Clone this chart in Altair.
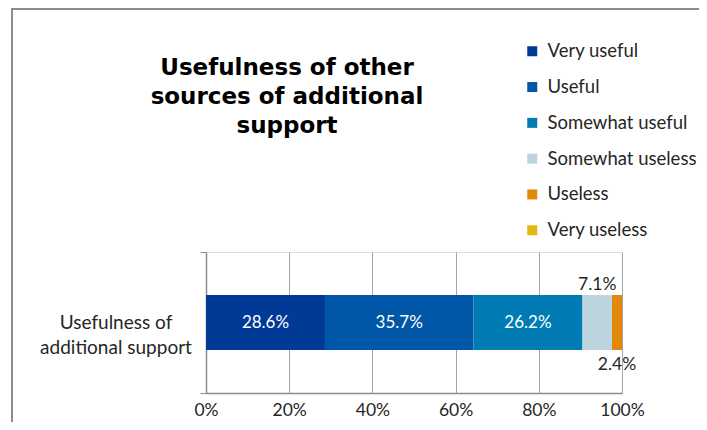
import altair as alt
import pandas as pd

categories = ["Very useful", "Useful", "Somewhat useful", "Somewhat useless", "Useless", "Very useless"]
values = [28.6, 35.7, 26.2, 7.1, 2.4, 0.0]
colors = ["#003A96", "#0057A8", "#007BB4", "#BCD4DE", "#E3870A", "#E6B710"]
row_label = "Usefulness of additional support"
label_pos = ["in", "in", "in", "above", "below", "none"]

rows = []
start = 0.0
for i, (c, v) in enumerate(zip(categories, values)):
    end = start + v
    rows.append({"cat": c, "order": i, "start": start / 100, "end": end / 100,
                 "mid": (start + end) / 200, "val": v, "txt": f"{v:.1f}%",
                 "pos": label_pos[i], "row": row_label})
    start = end
df = pd.DataFrame(rows)

FONT = "Lato"
W, H = 416, 141

xsc = alt.Scale(domain=[0, 1], nice=False)
ysc = alt.Scale(paddingInner=0, paddingOuter=0)

base = alt.Chart(df)

bars = base.mark_bar(size=55).encode(
    x=alt.X("start:Q", scale=xsc, title=None,
            axis=alt.Axis(format="%", values=[0, 0.2, 0.4, 0.6, 0.8, 1.0], grid=True,
                          gridColor="#A6A6A6", gridWidth=1, ticks=False, labelPadding=8,
                          domainColor="#8C8C8C", domainWidth=1.5, labelFontSize=17.5,
                          labelFont=FONT, labelColor="#262626", labelFlush=False)),
    x2="end:Q",
    y=alt.Y("row:N", scale=ysc, title=None,
            axis=alt.Axis(labels=False, tickSize=6, tickBand="extent",
                          tickColor="#8C8C8C", domainColor="#8C8C8C", domainWidth=1.5)),
    color=alt.Color("cat:N", sort=categories,
                    scale=alt.Scale(domain=categories, range=colors),
                    legend=alt.Legend(title=None, orient="none", legendX=317, legendY=-210,
                                      symbolType="square", symbolSize=100,
                                      symbolStrokeWidth=0, labelFontSize=18.5, labelFont=FONT,
                                      labelColor="#262626", rowPadding=16.8, labelOffset=6,
                                      labelLimit=300)),
    order="order:Q",
)

row_text = alt.Chart(pd.DataFrame({"row": [row_label], "t": ["Usefulness of\nadditional support"]})).mark_text(
    fontSize=19, font=FONT, color="#262626", align="center", baseline="middle",
    lineBreak="\n", lineHeight=25).encode(
    x=alt.value(-90), y=alt.Y("row:N", scale=ysc), text="t:N")

inside = base.transform_filter("datum.pos == 'in'").mark_text(
    color="white", fontSize=17, font=FONT).encode(
    x=alt.X("mid:Q", scale=xsc), y=alt.Y("row:N", scale=ysc), text="txt:N")

above = base.transform_filter("datum.pos == 'above'").mark_text(
    color="#262626", fontSize=17.5, font=FONT, dy=-38).encode(
    x=alt.X("mid:Q", scale=xsc), y=alt.Y("row:N", scale=ysc), text="txt:N")

below = base.transform_filter("datum.pos == 'below'").mark_text(
    color="#262626", fontSize=17.5, font=FONT, dy=42).encode(
    x=alt.X("mid:Q", scale=xsc), y=alt.Y("row:N", scale=ysc), text="txt:N")

title = alt.Chart(pd.DataFrame({"t": ["Usefulness of other\nsources of additional\nsupport"]})).mark_text(
    font="DejaVu Sans", fontWeight="bold", fontSize=23, lineBreak="\n", lineHeight=29,
    align="center", baseline="middle", color="black").encode(
    x=alt.value(81), y=alt.value(-184), text="t:N")

top_border = alt.Chart(pd.DataFrame({"a": [0]})).mark_rule(
    color="#8C8C8C", strokeWidth=2).encode(
    x=alt.value(-195), x2=alt.value(700), y=alt.value(-243))
left_border = alt.Chart(pd.DataFrame({"a": [0]})).mark_rule(
    color="#8C8C8C", strokeWidth=2).encode(
    x=alt.value(-194), y=alt.value(-244), y2=alt.value(400))

chart = alt.layer(top_border, left_border, bars, row_text, inside, above, below, title).properties(
    width=W, height=H,
    autosize=alt.AutoSizeParams(type="none"),
    padding={"left": 198, "top": 244, "right": 77, "bottom": 29},
).configure_view(stroke=None).configure(background="white")

chart.save("out.html", embed_options={"renderer": "svg", "actions": False})
